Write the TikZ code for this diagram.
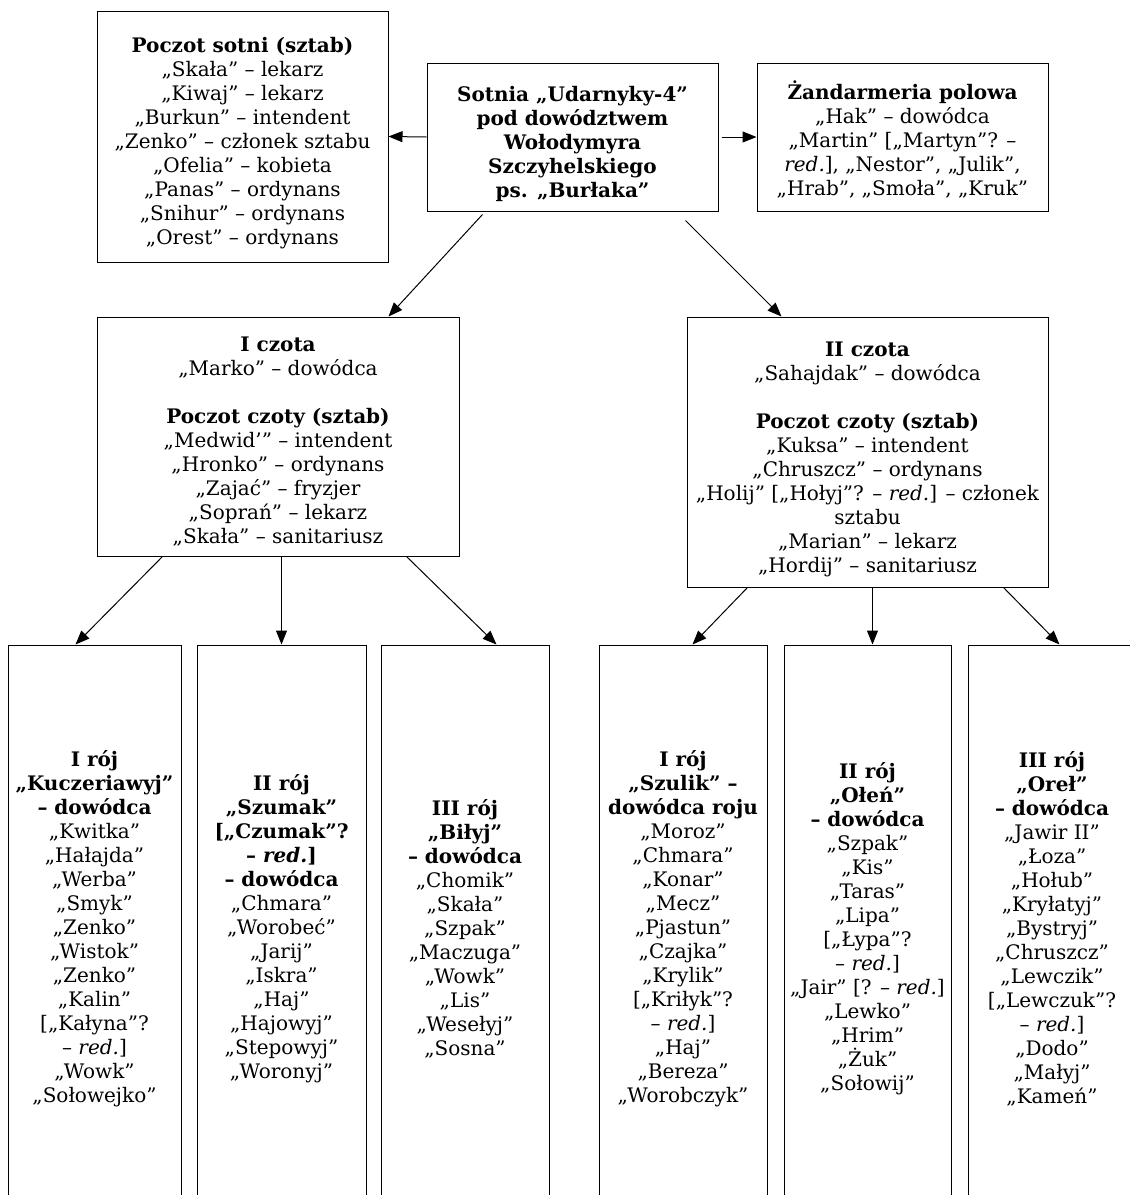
\documentclass[tikz,border=0pt]{standalone}
\usepackage{fontspec}
\setmainfont{DejaVu Serif}
\usetikzlibrary{arrows.meta,calc}
\newcommand{\topgap}[1]{\rule{0pt}{#1}}
\tikzset{
  box/.style={draw=black, line width=1pt, rectangle, inner sep=0pt, align=center,
    font=\fontsize{20}{24}\selectfont},
  arr/.style={-{Triangle[length=14pt,width=11pt]}, line width=1pt},
}
\begin{document}
\begin{tikzpicture}[x=1pt,y=-1pt]
\path[use as bounding box, clip] (0,0) rectangle (1130,1195);
\fill[white] (0,0) rectangle (1130,1195);
% top row
\node[box, minimum width=291pt, minimum height=251pt] (sztab) at (242.5,136.5)
  {\topgap{29pt}\textbf{Poczot sotni (sztab)}\\
   „Skała” – lekarz\\
   „Kiwaj” – lekarz\\
   „Burkun” – intendent\\
   „Zenko” – członek sztabu\\
   „Ofelia” – kobieta\\
   „Panas” – ordynans\\
   „Snihur” – ordynans\\
   „Orest” – ordynans};
\node[box, minimum width=291pt, minimum height=148pt, font=\fontsize{20}{24}\selectfont\bfseries] (sotnia) at (572.5,137)
  {\topgap{29pt}Sotnia „Udarnyky-4”\\pod dowództwem\\Wołodymyra\\Szczyhelskiego\\ps. „Burłaka”};
\node[box, minimum width=291pt, minimum height=148pt] (zand) at (902.5,137)
  {\topgap{24.5pt}\textbf{Żandarmeria polowa}\\
   „Hak” – dowódca\\
   „Martin” {[}„Martyn”? –\\
   \textit{red.}], „Nestor”, „Julik”,\\
   „Hrab”, „Smoła”, „Kruk”};
% czoty
\node[box, minimum width=362pt, minimum height=239pt] (cz1) at (278,436.5)
  {\topgap{24.6pt}\textbf{I czota}\\
   „Marko” – dowódca\\
   \strut\\
   \textbf{Poczot czoty (sztab)}\\
   „Medwid’” – intendent\\
   „Hronko” – ordynans\\
   „Zajać” – fryzjer\\
   „Soprań” – lekarz\\
   „Skała” – sanitariusz};
\node[box, minimum width=361pt, minimum height=270pt] (cz2) at (867.5,452)
  {\topgap{28.6pt}\textbf{II czota}\\
   „Sahajdak” – dowódca\\
   \strut\\
   \textbf{Poczot czoty (sztab)}\\
   „Kuksa” – intendent\\
   „Chruszcz” – ordynans\\
   „Holij” {[}„Hołyj”? – \textit{red.}] – członek\\
   sztabu\\
   „Marian” – lekarz\\
   „Hordij” – sanitariusz};
% roje
\node[box, minimum width=173pt, minimum height=567pt] (r1) at (94.5,928.5)
  {\textbf{I rój}\\
   \textbf{„Kuczeriawyj”}\\
   \textbf{– dowódca}\\
   „Kwitka”\\„Hałajda”\\„Werba”\\„Smyk”\\„Zenko”\\„Wistok”\\„Zenko”\\„Kalin”\\
   {[}„Kałyna”?\\
   – \textit{red.}]\\
   „Wowk”\\„Sołowejko”};
\node[box, minimum width=169pt, minimum height=567pt] (r2) at (281.5,928.5)
  {\textbf{II rój}\\
   \textbf{„Szumak”}\\
   \textbf{{[}„Czumak”?}\\
   \textbf{– \textit{red.}]}\\
   \textbf{– dowódca}\\
   „Chmara”\\„Worobeć”\\„Jarij”\\„Iskra”\\„Haj”\\„Hajowyj”\\„Stepowyj”\\„Woronyj”};
\node[box, minimum width=168pt, minimum height=567pt] (r3) at (465,928.5)
  {\textbf{III rój}\\
   \textbf{„Biłyj”}\\
   \textbf{– dowódca}\\
   „Chomik”\\„Skała”\\„Szpak”\\„Maczuga”\\„Wowk”\\„Lis”\\„Wesełyj”\\„Sosna”};
\node[box, minimum width=168pt, minimum height=567pt] (r4) at (683,928.5)
  {\textbf{I rój}\\
   \textbf{„Szulik” –}\\
   \textbf{dowódca roju}\\
   „Moroz”\\„Chmara”\\„Konar”\\„Mecz”\\„Pjastun”\\„Czajka”\\„Krylik”\\
   {[}„Kriłyk”?\\
   – \textit{red.}]\\
   „Haj”\\„Bereza”\\„Worobczyk”};
\node[box, minimum width=167pt, minimum height=567pt] (r5) at (867.5,928.5)
  {\textbf{II rój}\\
   \textbf{„Ołeń”}\\
   \textbf{– dowódca}\\
   „Szpak”\\„Kis”\\„Taras”\\„Lipa”\\
   {[}„Łypa”?\\
   – \textit{red.}]\\
   „Jair” {[}? – \textit{red.}]\\
   „Lewko”\\„Hrim”\\„Żuk”\\„Sołowij”};
\node[box, minimum width=168pt, minimum height=567pt] (r6) at (1052,928.5)
  {\textbf{III rój}\\
   \textbf{„Oreł”}\\
   \textbf{– dowódca}\\
   „Jawir II”\\„Łoza”\\„Hołub”\\„Kryłatyj”\\„Bystryj”\\„Chruszcz”\\„Lewczik”\\
   {[}„Lewczuk”?\\
   – \textit{red.}]\\
   „Dodo”\\„Małyj”\\„Kameń”};
% connectors
\draw[arr] (sotnia.west) -- (sztab.east);
\draw[arr, shorten <=3pt] (sotnia.east) -- (zand.west);
\draw[arr] ($(sotnia.south west)+(56,3)$) -- ($(cz1.north west)+(292,0)$);
\draw[arr] ($(sotnia.south west)+(259,9)$) -- ($(cz2.north west)+(95,0)$);
\draw[arr] ($(cz1.south west)+(66,0)$) -- ($(r1.north west)+(68,0)$);
\draw[arr] ($(cz1.south west)+(185,0)$) -- ($(r2.north west)+(85,0)$);
\draw[arr] ($(cz1.south west)+(310,0)$) -- ($(r3.north west)+(116,0)$);
\draw[arr] ($(cz2.south west)+(61,0)$) -- ($(r4.north west)+(94,0)$);
\draw[arr] ($(cz2.south west)+(186,0)$) -- ($(r5.north west)+(89,0)$);
\draw[arr] ($(cz2.south west)+(317,0)$) -- ($(r6.north west)+(92,0)$);
\end{tikzpicture}
\end{document}
